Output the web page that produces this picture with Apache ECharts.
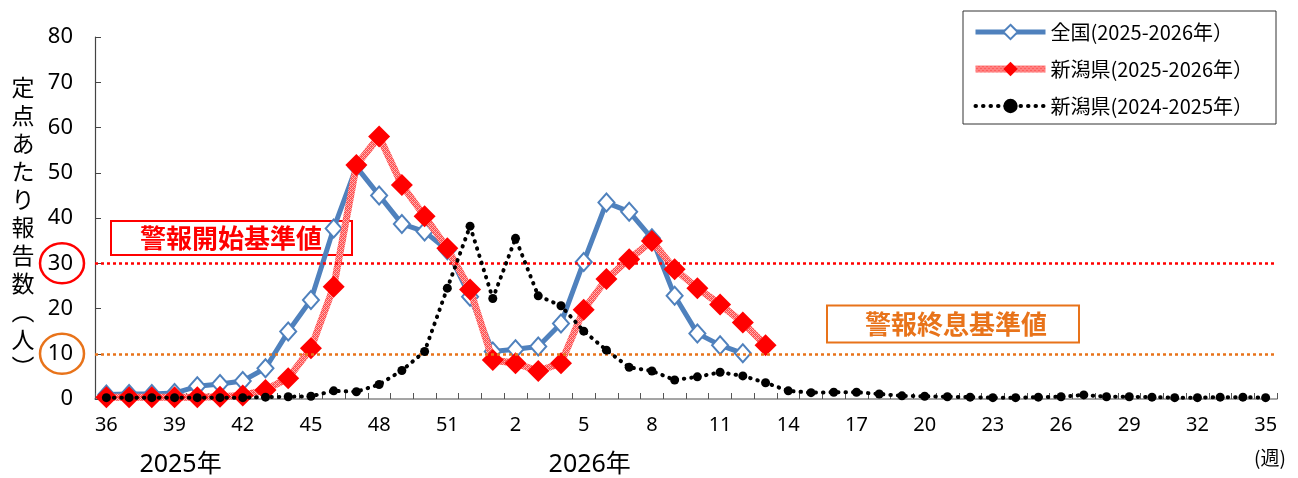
<!DOCTYPE html>
<html>
<head>
<meta charset="utf-8">
<script src="https://cdn.jsdelivr.net/npm/echarts@6/dist/echarts.min.js"></script>
<style>
html,body{margin:0;padding:0;background:#fff;}
#c{width:1298px;height:478px;}
</style>
</head>
<body>
<div id="c"></div>
<script>
// ---- data ----
const weeks = ['36','37','38','39','40','41','42','43','44','45','46','47','48','49','50','51','52',
  '1','2','3','4','5','6','7','8','9','10','11','12','13','14','15','16','17','18','19','20',
  '21','22','23','24','25','26','27','28','29','30','31','32','33','34','35'];
const nationalName = '全国(2025-2026年）';
const niigataName = '新潟県(2025-2026年）';
const niigataPrevName = '新潟県(2024-2025年）';
const national = [1.0,1.1,1.1,1.3,2.8,3.3,4.0,6.8,14.9,21.9,37.7,51.3,45.0,38.7,37.0,32.9,22.6,
  10.5,11.0,11.6,16.7,30.3,43.4,41.4,35.5,22.8,14.5,11.9,10.1,
  null,null,null,null,null,null,null,null,null,null,null,null,null,null,null,null,null,null,null,null,null,null,null];
const niigata = [0.4,0.4,0.4,0.4,0.4,0.5,0.8,2.0,4.6,11.2,24.8,51.7,58.0,47.3,40.4,33.3,24.2,
  8.6,7.9,6.2,7.9,19.7,26.5,30.9,34.9,28.7,24.5,20.9,16.9,11.9,
  null,null,null,null,null,null,null,null,null,null,null,null,null,null,null,null,null,null,null,null,null,null];
const niigataPrev = [0.3,0.3,0.3,0.3,0.3,0.3,0.3,0.4,0.5,0.6,1.8,1.6,3.2,6.3,10.5,24.5,38.2,
  22.2,35.5,22.8,20.6,15.0,10.8,7.0,6.2,4.2,4.9,5.9,5.1,3.6,1.8,1.4,1.5,1.5,1.1,0.7,0.6,
  0.5,0.4,0.3,0.3,0.4,0.5,0.9,0.5,0.5,0.4,0.3,0.3,0.4,0.4,0.3];
const alarmStart = 30;
const alarmEnd = 10;
const yTicks = {min:0, max:80, interval:10};
const yAxisTitle = ['定','点','あ','た','り','報','告','数','︵','人','︶'];
const yearLabels = [{text:'2025年', week:'39'}, {text:'2026年', week:'5'}];

// ---- styling ----
const FONT = '"Noto Sans CJK JP", "Noto Sans", sans-serif';
const NUMFONT = '"Noto Sans", "Noto Sans CJK JP", sans-serif';
const BLUE = '#4f81bd';
const RED = '#ff0000';
const ORANGE = '#e8731a';

// textured red line pattern
const pc = document.createElement('canvas');
pc.width = 4; pc.height = 4;
const pctx = pc.getContext('2d');
pctx.fillStyle = '#ffb3b3'; pctx.fillRect(0,0,4,4);
pctx.fillStyle = '#ff4d4d';
pctx.fillRect(0,0,1,1); pctx.fillRect(2,0,1,1); pctx.fillRect(1,1,1,1); pctx.fillRect(3,1,1,1);
pctx.fillRect(0,2,1,1); pctx.fillRect(2,2,1,1); pctx.fillRect(1,3,1,1); pctx.fillRect(3,3,1,1);
pctx.fillStyle = '#ff7070';
pctx.fillRect(1,0,1,1); pctx.fillRect(3,2,1,1);

const chart = echarts.init(document.getElementById('c'), null, {renderer:'canvas'});

const option = {
  animation: false,
  backgroundColor: '#fff',
  grid: {left: 95, right: 21, top: 37, bottom: 79, containLabel: false},
  legend: {
    orient: 'vertical',
    left: 962, top: 11,
    padding: [10, 10, 10, 10],
    itemWidth: 70, itemHeight: 18, itemGap: 15,
    textStyle: {fontFamily: FONT, fontSize: 20, color: '#000', lineHeight: 22},
    data: [
      {name: nationalName, lineStyle: {width: 5}},
      {name: niigataName, lineStyle: {width: 7}},
      {name: niigataPrevName, lineStyle: {width: 4}}
    ]
  },
  xAxis: {
    type: 'category',
    data: weeks,
    boundaryGap: true,
    axisLine: {lineStyle: {color: '#888', width: 1.5}},
    axisTick: {show: true, inside: true, interval: 0, length: 6, lineStyle: {color: '#555'}},
    axisLabel: {interval: 2, color: '#000', fontSize: 20, fontFamily: NUMFONT, margin: 16},
    splitLine: {show: false}
  },
  yAxis: {
    type: 'value',
    min: yTicks.min, max: yTicks.max, interval: yTicks.interval,
    axisLine: {show: true, lineStyle: {color: '#444', width: 1.2}},
    axisTick: {show: true, inside: true, length: 6, lineStyle: {color: '#444'}},
    axisLabel: {color: '#000', fontSize: 22, fontFamily: NUMFONT, margin: 22},
    splitLine: {show: false}
  },
  series: [
    {
      name: nationalName, type: 'line', data: national, z: 3,
      symbol: 'diamond', symbolSize: [16, 18], showAllSymbol: true,
      lineStyle: {color: BLUE, width: 5},
      itemStyle: {color: '#fff', borderColor: BLUE, borderWidth: 2},
      markLine: {
        silent: true, symbol: 'none', label: {show: false},
        data: [
          {yAxis: alarmStart, lineStyle: {color: RED, width: 2.5, type: [3, 3]}},
          {yAxis: alarmEnd, lineStyle: {color: ORANGE, width: 2.5, type: [3, 3]}}
        ]
      }
    },
    {
      name: niigataName, type: 'line', data: niigata, z: 4,
      symbol: 'diamond', symbolSize: 22, showAllSymbol: true,
      lineStyle: {color: {image: pc, repeat: 'repeat'}, width: 7},
      itemStyle: {color: RED, borderWidth: 0}
    },
    {
      name: niigataPrevName, type: 'line', data: niigataPrev, z: 5,
      symbol: 'circle', symbolSize: 9, showAllSymbol: true,
      lineStyle: {color: '#000', width: 4, type: [0.5, 7], cap: 'round'},
      itemStyle: {color: '#000', borderWidth: 0}
    }
  ]
};
chart.setOption(option);

function drawExtras() {
  const y30 = chart.convertToPixel({yAxisIndex: 0}, alarmStart);
  const y10 = chart.convertToPixel({yAxisIndex: 0}, alarmEnd);
  const els = [];
  // y-axis title (vertical)
  yAxisTitle.forEach((ch, i) => {
    els.push({type: 'text', x: 23, y: 87 + i * 28, z: 10,
      style: {text: ch, fontFamily: FONT, fontSize: 23, fill: '#000', align: 'center', verticalAlign: 'middle'}});
  });
  // circles around 30 and 10 labels
  els.push({type: 'ellipse', z: 10, shape: {cx: 62, cy: y30, rx: 22, ry: 20},
    style: {fill: 'none', stroke: RED, lineWidth: 2.5}});
  els.push({type: 'ellipse', z: 10, shape: {cx: 62, cy: y10, rx: 22, ry: 20},
    style: {fill: 'none', stroke: ORANGE, lineWidth: 2.5}});
  // alarm boxes
  els.push({type: 'rect', z: 1, shape: {x: 111, y: 221, width: 241, height: 34},
    style: {fill: '#fff', stroke: RED, lineWidth: 2}});
  els.push({type: 'text', z: 1, x: 231, y: 238,
    style: {text: '警報開始基準値', fontFamily: FONT, fontWeight: 'bold', fontSize: 26, fill: RED, align: 'center', verticalAlign: 'middle'}});
  els.push({type: 'rect', z: 1, shape: {x: 827, y: 305.5, width: 252, height: 37},
    style: {fill: '#fff', stroke: ORANGE, lineWidth: 2}});
  els.push({type: 'text', z: 1, x: 956, y: 324,
    style: {text: '警報終息基準値', fontFamily: FONT, fontWeight: 'bold', fontSize: 26, fill: ORANGE, align: 'center', verticalAlign: 'middle'}});
  // year labels
  yearLabels.forEach(yl => {
    const px = chart.convertToPixel({xAxisIndex: 0}, yl.week);
    els.push({type: 'text', z: 10, x: px + 6, y: 465,
      style: {text: yl.text, fontFamily: NUMFONT, fontSize: 25, fill: '#000', align: 'center', verticalAlign: 'middle'}});
  });
  // week unit
  els.push({type: 'text', z: 10, x: 1270, y: 458,
    style: {text: '(週)', fontFamily: FONT, fontSize: 19, fill: '#000', align: 'center', verticalAlign: 'middle'}});
  // legend frame
  els.push({type: 'rect', z: 0, shape: {x: 963, y: 11, width: 313, height: 113},
    style: {fill: '#fff', stroke: '#333', lineWidth: 1}});
  chart.setOption({graphic: {elements: els}});
}
drawExtras();
</script>
</body>
</html>
